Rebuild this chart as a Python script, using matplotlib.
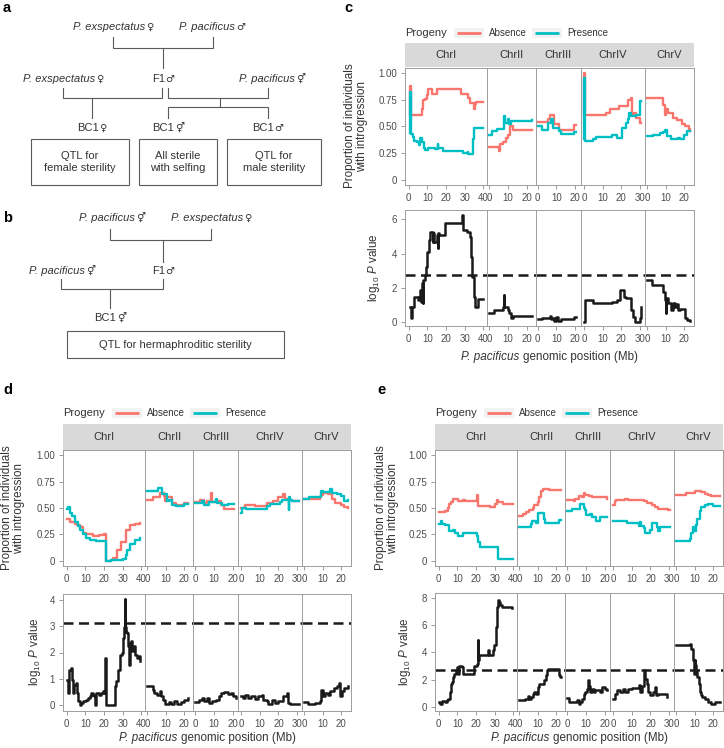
import numpy as np
import matplotlib.pyplot as plt
from matplotlib.patches import Rectangle
from matplotlib.offsetbox import TextArea, HPacker, AnnotationBbox

# facets and series
chroms = ['ChrI', 'ChrII', 'ChrIII', 'ChrIV', 'ChrV']
chrom_len = [40.0, 23.6, 22.0, 31.0, 24.0]
progeny = ['Absence', 'Presence']
progeny_colors = ['#F8766D', '#00BFC4']

# ---- panel c : proportion with introgression (Mb, proportion), one list per chromosome
c_abs_pos = [[0.5, 0.9, 1.2, 7.0, 7.9, 8.8, 9.6, 10.5, 12.3, 14.9, 28.1, 31.6, 33.0, 33.3, 34.7, 35.6, 36.0, 39.5],
             [0.0, 4.5, 4.9, 5.4, 7.1, 8.9, 9.8, 11.2, 12.5, 22.9],
             [0.0, 5.4, 6.3, 8.6, 8.9, 11.1, 11.6, 19.6, 20.5],
             [0.0, 0.3, 0.6, 12.1, 14.0, 18.7, 23.4, 25.2, 25.8, 27.1, 28.0, 29.9, 30.8],
             [0.0, 8.7, 9.5, 10.0, 11.5, 14.2, 16.0, 18.7, 20.5, 22.4, 23.3]]
c_abs_val = [[0.61, 0.88, 0.61, 0.66, 0.75, 0.76, 0.80, 0.85, 0.81, 0.85, 0.81, 0.77, 0.72, 0.72, 0.66, 0.71, 0.73, 0.73],
             [0.31, 0.31, 0.27, 0.34, 0.35, 0.39, 0.42, 0.50, 0.47, 0.47],
             [0.54, 0.57, 0.61, 0.57, 0.52, 0.50, 0.47, 0.51, 0.51],
             [0.61, 1.00, 0.61, 0.63, 0.66, 0.69, 0.75, 0.77, 0.61, 0.63, 0.58, 0.53, 0.53],
             [0.77, 0.70, 0.61, 0.66, 0.63, 0.58, 0.56, 0.52, 0.50, 0.48, 0.46]]
c_pre_pos = [[0.5, 0.9, 1.2, 2.1, 2.6, 4.4, 5.6, 6.1, 7.0, 8.2, 8.8, 10.5, 14.0, 15.4, 15.8, 16.1, 18.4, 28.9, 31.6, 31.9, 33.3, 34.2, 34.6, 35.1, 39.5],
             [0.0, 1.2, 3.9, 7.7, 7.9, 8.6, 9.8, 10.7, 11.6, 12.5, 23.0],
             [0.0, 2.1, 5.7, 7.1, 8.0, 11.1, 12.5, 19.6, 20.5],
             [0.0, 0.3, 0.6, 4.7, 6.5, 15.0, 17.8, 20.6, 22.4, 23.4, 24.3, 25.2, 28.0, 29.9, 30.8],
             [0.0, 3.3, 6.9, 8.7, 9.6, 10.5, 12.9, 16.5, 17.8, 19.6, 21.5, 23.3]]
c_pre_val = [[0.44, 0.82, 0.43, 0.40, 0.36, 0.35, 0.33, 0.39, 0.35, 0.30, 0.28, 0.30, 0.29, 0.34, 0.30, 0.30, 0.27, 0.25, 0.26, 0.24, 0.24, 0.28, 0.38, 0.49, 0.49],
             [0.42, 0.46, 0.48, 0.49, 0.60, 0.53, 0.57, 0.52, 0.55, 0.55, 0.56],
             [0.50, 0.47, 0.53, 0.57, 0.49, 0.46, 0.43, 0.45, 0.45],
             [0.38, 0.96, 0.36, 0.38, 0.40, 0.42, 0.39, 0.49, 0.53, 0.57, 0.63, 0.60, 0.61, 0.74, 0.74],
             [0.41, 0.42, 0.44, 0.45, 0.47, 0.41, 0.38, 0.39, 0.38, 0.42, 0.46, 0.46]]
# panel c : -log10 P
c_lp_pos = [[0.5, 1.2, 1.8, 3.0, 4.7, 5.3, 6.1, 6.7, 7.0, 7.4, 7.9, 8.8, 9.3, 9.6, 10.0, 10.9, 11.4, 12.8, 13.2, 13.7,
             14.9, 15.4, 15.8, 16.1, 19.3, 28.6, 29.3, 31.2, 33.0, 33.3, 33.9, 34.7, 35.4, 36.8, 39.5],
            [0.0, 2.7, 7.1, 7.7, 8.0, 9.8, 10.7, 11.6, 12.5, 22.9],
            [0.0, 2.1, 6.3, 7.1, 8.0, 8.9, 9.8, 10.7, 12.5, 19.6, 20.5],
            [0.0, 0.6, 4.7, 15.0, 17.8, 19.6, 21.5, 22.4, 25.2, 26.2, 27.5, 29.9, 30.8],
            [0.0, 2.6, 8.7, 9.6, 10.0, 10.2, 11.1, 12.9, 14.2, 15.1, 16.0, 16.9, 17.8, 20.5, 21.5, 23.3]]
c_lp_val = [[0.84, 0.2, 0.84, 1.46, 1.27, 1.46, 1.86, 1.17, 2.25, 1.07, 2.44, 2.73, 3.22, 3.71, 4.1, 4.78, 5.27, 4.69, 5.2, 4.69,
             5.08, 4.3, 5.2, 5.08, 5.76, 6.25, 5.37, 5.27, 4.98, 3.8, 2.63, 1.46, 0.88, 1.33, 1.33],
            [0.49, 0.68, 0.88, 1.56, 0.84, 0.68, 0.49, 0.2, 0.33, 0.33],
            [0.14, 0.2, 0.33, 0.14, 0.22, 0.06, 0.25, 0.06, 0.18, 0.29, 0.29],
            [0.0, 1.27, 1.07, 1.17, 1.27, 1.86, 1.46, 1.37, 0.68, 0.29, 0.0, 0.2, 0.88],
            [2.44, 2.15, 1.76, 1.27, 0.49, 1.37, 1.1, 0.68, 1.07, 0.88, 1.03, 0.68, 0.72, 0.2, 0.1, 0.02]]
c_thresh = 2.73

# ---- panel d
d_abs_pos = [[0, 1.8, 4.4, 5.3, 7.0, 8.8, 10.5, 14.0, 17.5, 20.2, 21.1, 23.7, 24.6, 27.2, 28.9, 31.6, 34.2, 36.8, 39.5],
             [0, 3.3, 7.0, 8.9, 9.8, 10.7, 13.5, 15.4, 20.0, 21.9],
             [0, 2.7, 4.5, 6.4, 8.2, 8.7, 11.8, 13.6, 15.5, 20.9],
             [0, 1.8, 7.3, 13.6, 17.3, 20.0, 22.7, 23.6, 26.4, 27.3, 30.9],
             [0, 8.4, 9.3, 10.3, 13.1, 15.0, 16.8, 19.6, 21.5, 23.4]]
d_abs_val = [[0.40, 0.37, 0.35, 0.34, 0.32, 0.26, 0.25, 0.23, 0.24, 0.25, 0.0, 0.01, 0.03, 0.10, 0.18, 0.29, 0.34, 0.35, 0.36],
             [0.58, 0.60, 0.64, 0.61, 0.57, 0.60, 0.55, 0.53, 0.55, 0.55],
             [0.56, 0.58, 0.55, 0.57, 0.64, 0.56, 0.57, 0.53, 0.49, 0.49],
             [0.50, 0.53, 0.52, 0.55, 0.57, 0.60, 0.63, 0.59, 0.58, 0.57, 0.57],
             [0.59, 0.60, 0.62, 0.64, 0.63, 0.59, 0.55, 0.53, 0.51, 0.50]]
d_pre_pos = [[0, 0.9, 1.8, 2.6, 4.4, 6.1, 7.0, 8.8, 10.5, 12.3, 15.8, 21.1, 23.7, 30.0, 31.6, 32.5, 34.2, 36.8, 39.5],
             [0, 6.1, 8.0, 10.7, 11.7, 13.5, 15.4, 20.0, 21.9],
             [0, 3.6, 4.5, 7.3, 10.9, 11.8, 14.5, 17.3, 20.9],
             [0, 0.4, 2.7, 13.6, 15.5, 20.9, 21.8, 25.5, 25.8, 26.2, 27.3, 30.9],
             [0, 2.8, 9.3, 10.3, 14.0, 15.0, 17.8, 19.6, 21.5, 23.4]]
d_pre_val = [[0.49, 0.51, 0.45, 0.42, 0.37, 0.33, 0.29, 0.25, 0.22, 0.20, 0.19, 0.0, 0.01, 0.02, 0.05, 0.10, 0.16, 0.20, 0.22],
             [0.66, 0.69, 0.63, 0.57, 0.58, 0.53, 0.52, 0.54, 0.54],
             [0.55, 0.57, 0.53, 0.56, 0.59, 0.55, 0.53, 0.54, 0.54],
             [0.45, 0.50, 0.49, 0.52, 0.54, 0.56, 0.58, 0.48, 0.60, 0.58, 0.57, 0.57],
             [0.59, 0.60, 0.66, 0.65, 0.68, 0.64, 0.63, 0.61, 0.57, 0.58]]
d_lp_pos = [[0, 0.9, 1.2, 2.1, 2.6, 3.2, 3.9, 4.9, 5.3, 6.1, 7.0, 7.9, 8.8, 10.5, 11.4, 12.6, 13.2, 14.0, 14.9, 15.4,
             15.8, 17.5, 18.4, 19.3, 20.2, 20.7, 21.1, 25.4, 26.0, 26.7, 27.7, 28.4, 29.5, 30.2, 30.7, 31.1, 31.4, 31.9,
             32.5, 33.0, 33.3, 33.9, 34.7, 35.1, 35.6, 36.3, 36.8, 37.7, 38.6, 39.5],
            [0, 2.4, 3.0, 3.7, 5.2, 6.7, 7.4, 8.5, 9.8, 11.7, 12.6, 14.4, 16.3, 18.1, 20.0, 21.9],
            [0, 1.8, 3.6, 4.5, 6.4, 7.3, 9.1, 10.9, 12.7, 14.0, 15.5, 17.3, 19.1, 20.0, 21.8],
            [0, 0.9, 1.8, 3.6, 5.5, 7.3, 9.1, 10.9, 11.8, 13.6, 14.5, 16.4, 18.2, 20.0, 22.7, 24.5, 25.1, 26.4, 28.2, 30.9],
            [0, 1.9, 5.6, 8.4, 9.3, 9.9, 11.2, 13.1, 14.0, 15.9, 17.8, 18.7, 19.3, 20.6, 21.5, 23.4]]
d_lp_val = [[0.94, 0.46, 1.34, 1.4, 0.96, 0.46, 0.77, 0.84, 0.46, 0.14, 0.0, 0.08, 0.14, 0.2, 0.27, 0.33, 0.46, 0.39, 0.33, 0.0,
             0.46, 0.39, 0.46, 0.52, 0.46, 1.78, 0.0, 0.0, 0.71, 0.9, 1.34, 1.91, 1.97, 2.54, 2.99, 4.03, 2.99, 2.8,
             2.73, 2.23, 1.53, 2.35, 2.42, 2.04, 2.16, 2.23, 1.91, 1.78, 1.85, 1.66],
            [0.73, 0.73, 0.58, 0.46, 0.39, 0.52, 0.33, 0.2, 0.05, 0.1, 0.05, 0.14, 0.05, 0.1, 0.18, 0.27],
            [0.1, 0.18, 0.27, 0.14, 0.27, 0.08, 0.14, 0.2, 0.33, 0.46, 0.48, 0.43, 0.46, 0.33, 0.27],
            [0.33, 0.27, 0.39, 0.27, 0.33, 0.23, 0.33, 0.39, 0.2, 0.14, 0.05, 0.18, 0.08, 0.14, 0.33, 0.46, 0.08, 0.05, 0.03, 0.03],
            [0.1, 0.05, 0.08, 0.14, 0.58, 0.33, 0.46, 0.39, 0.52, 0.65, 0.71, 0.84, 0.33, 0.52, 0.65, 0.71]]
d_thresh = 3.11

# ---- panel e
e_abs_pos = [[0, 3.4, 4.8, 5.5, 6.6, 7.9, 8.8, 10.5, 13.2, 14.1, 15.0, 20.6, 20.9, 21.3, 27.5, 30.2, 31.1, 32.0, 34.6, 39.8],
             [0, 2.0, 3.8, 5.5, 7.3, 8.2, 10.0, 10.9, 11.8, 12.7, 16.3, 22.5],
             [0, 3.4, 4.3, 6.1, 7.9, 8.8, 9.6, 11.4, 13.2, 21.3],
             [0, 0.7, 1.4, 6.4, 8.2, 16.3, 18.0, 20.7, 22.5, 24.3, 29.6, 30.6],
             [0, 5.5, 10.0, 13.6, 15.4, 17.1, 18.9, 23.4]]
e_abs_val = [[0.46, 0.47, 0.50, 0.54, 0.56, 0.59, 0.59, 0.57, 0.58, 0.57, 0.57, 0.62, 0.52, 0.52, 0.51, 0.54, 0.58, 0.56, 0.54, 0.54],
             [0.42, 0.44, 0.46, 0.48, 0.50, 0.53, 0.56, 0.60, 0.66, 0.68, 0.67, 0.67],
             [0.58, 0.57, 0.59, 0.61, 0.60, 0.64, 0.62, 0.61, 0.60, 0.59],
             [0.53, 0.57, 0.58, 0.59, 0.58, 0.57, 0.55, 0.53, 0.51, 0.49, 0.48, 0.48],
             [0.62, 0.64, 0.66, 0.65, 0.63, 0.62, 0.61, 0.61]]
e_pre_pos = [[0, 1.4, 1.8, 3.4, 5.5, 7.9, 8.8, 10.5, 13.2, 20.4, 21.3, 22.1, 31.1, 31.6, 32.0, 39.8],
             [0, 6.4, 6.8, 9.1, 10.4, 13.6, 14.1, 15.4, 21.6, 22.5],
             [0, 2.5, 7.0, 8.8, 9.3, 10.0, 12.3, 13.2, 15.4, 17.7, 21.5],
             [0, 7.3, 13.6, 14.5, 15.0, 16.3, 17.1, 19.8, 20.7, 23.4, 24.3, 25.2, 30.5],
             [0, 7.3, 8.2, 9.1, 10.0, 10.5, 11.4, 12.7, 13.6, 15.4, 17.1, 19.8, 23.4]]
e_pre_val = [[0.35, 0.38, 0.35, 0.34, 0.28, 0.29, 0.26, 0.23, 0.26, 0.23, 0.18, 0.13, 0.13, 0.08, 0.02, 0.02],
             [0.32, 0.35, 0.38, 0.36, 0.45, 0.40, 0.36, 0.36, 0.39, 0.39],
             [0.47, 0.49, 0.54, 0.50, 0.48, 0.43, 0.44, 0.41, 0.38, 0.41, 0.41],
             [0.38, 0.36, 0.33, 0.37, 0.33, 0.31, 0.26, 0.29, 0.36, 0.32, 0.28, 0.32, 0.32],
             [0.19, 0.21, 0.26, 0.32, 0.28, 0.34, 0.40, 0.47, 0.51, 0.53, 0.54, 0.52, 0.52]]
e_lp_pos = [[0, 0.7, 1.6, 3.4, 4.3, 5.2, 6.1, 6.6, 7.3, 7.9, 8.4, 9.1, 9.6, 10.5, 10.9, 12.3, 12.9, 18.6, 19.1, 20.4,
             20.9, 21.3, 21.6, 26.3, 27.0, 29.3, 29.8, 30.5, 31.1, 31.6, 32.3, 32.9, 33.8, 39.5],
            [0, 1.1, 2.9, 4.6, 5.5, 6.4, 7.3, 8.2, 9.1, 10.0, 10.5, 11.8, 13.6, 14.5, 15.0, 15.7, 21.6, 22.1, 22.5],
            [0, 0.7, 5.2, 6.1, 7.0, 7.9, 8.8, 9.6, 10.5, 11.1, 11.8, 12.3, 13.2, 14.1, 15.0, 17.7, 18.6, 20.4, 21.3],
            [0, 0.7, 2.0, 3.8, 5.5, 6.4, 8.2, 10.0, 13.6, 14.5, 15.4, 16.3, 17.1, 18.0, 18.9, 19.8, 21.6, 22.5, 23.0, 24.3, 27.9, 28.8],
            [0, 7.3, 8.2, 9.1, 9.6, 10.0, 10.4, 10.9, 11.4, 12.1, 12.7, 13.2, 13.9, 15.4, 17.1, 18.9, 20.7, 23.4]]
e_lp_val = [[0.37, 0.24, 0.44, 0.37, 0.49, 0.61, 1.1, 1.71, 1.83, 2.2, 2.44, 2.69, 2.93, 2.44, 2.98, 2.93, 2.44, 2.44, 2.98, 3.18,
             4.89, 3.42, 3.79, 4.16, 3.79, 4.16, 4.52, 5.87, 7.33, 7.87, 7.7, 7.46, 7.33, 7.25],
            [0.49, 0.54, 0.61, 0.78, 0.61, 0.73, 0.98, 1.1, 0.98, 1.47, 1.71, 1.66, 1.96, 2.32, 2.69, 2.81, 2.32, 2.2, 2.2],
            [0.68, 0.37, 0.49, 0.24, 0.37, 0.61, 0.98, 1.1, 1.34, 1.96, 1.52, 1.1, 1.34, 1.1, 1.22, 1.1, 1.47, 1.34, 1.22],
            [0.61, 0.98, 1.22, 1.1, 1.34, 1.1, 1.34, 1.42, 1.59, 1.1, 1.52, 2.69, 2.08, 1.71, 1.1, 0.86, 1.1, 1.47, 0.86, 0.98, 0.93, 0.73],
            [4.52, 4.6, 4.28, 3.42, 2.44, 3.42, 3.06, 2.57, 2.2, 1.71, 1.1, 0.86, 0.73, 0.55, 0.37, 0.24, 0.37, 0.37]]
e_thresh = 2.74

W, H = 724, 748
plt.rcParams['font.family'] = ['Liberation Sans', 'DejaVu Sans']
plt.rcParams['mathtext.fontset'] = 'custom'
plt.rcParams['mathtext.rm'] = 'Liberation Sans'
plt.rcParams['mathtext.it'] = 'Liberation Sans:italic'
plt.rcParams['mathtext.bf'] = 'Liberation Sans:bold'

TXT = '#333333'
LINE = '#5a5a5a'
TITLE_FS = 8.4

fig = plt.figure(figsize=(W / 100, H / 100), dpi=100)


def px(x0, y0, x1, y1):
    # pixel box (from top left) -> figure fraction rect
    return [x0 / W, 1 - y1 / H, (x1 - x0) / W, (y1 - y0) / H]


def style_ax(ax, L, first):
    for s in ax.spines.values():
        s.set_color('#9c9c9c')
        s.set_linewidth(0.7)
    ax.set_xlim(-0.05 * L, 1.05 * L)
    ticks = np.arange(0, L + 0.01, 10)
    ax.set_xticks(ticks)
    ax.set_xticklabels([str(int(t)) for t in ticks])
    ax.tick_params(length=2.8, width=0.6, color='#8a8a8a', labelsize=7, labelcolor='#4d4d4d', pad=3)
    if not first:
        ax.tick_params(axis='y', left=False, labelleft=False)


def qtl_block(x0, x1, strip, upper, lower, abs_pos, abs_val, pre_pos, pre_val, lp_pos, lp_val,
              thresh, lp_ylim, lp_ticks):
    total = sum(chrom_len)
    left = x0
    for i, (name, L) in enumerate(zip(chroms, chrom_len)):
        right = left + (x1 - x0) * L / total
        sa = fig.add_axes(px(left, strip[0], right, strip[1]))
        sa.set_facecolor('#d9d9d9')
        for s in sa.spines.values():
            s.set_visible(False)
        sa.set_xticks([])
        sa.set_yticks([])
        sa.text(0.5, 0.5, name, transform=sa.transAxes, ha='center', va='center', fontsize=8, color=TXT)

        au = fig.add_axes(px(left, upper[0], right, upper[1]))
        au.plot(abs_pos[i], abs_val[i], drawstyle='steps-post', color=progeny_colors[0], lw=1.7)
        au.plot(pre_pos[i], pre_val[i], drawstyle='steps-post', color=progeny_colors[1], lw=1.7)
        au.set_ylim(-0.05, 1.05)
        au.set_yticks([0, 0.25, 0.5, 0.75, 1.0])
        au.set_yticklabels(['0', '0.25', '0.50', '0.75', '1.00'])
        style_ax(au, L, i == 0)

        al = fig.add_axes(px(left, lower[0], right, lower[1]))
        al.plot(lp_pos[i], lp_val[i], drawstyle='steps-post', color='#1a1a1a', lw=1.8)
        al.axhline(thresh, color='#1a1a1a', lw=1.8, dashes=(4, 2.2))
        al.set_ylim(*lp_ylim)
        al.set_yticks(lp_ticks)
        style_ax(al, L, i == 0)
        left = right


qtl_block(405, 694, (43, 67), (68, 185), (210, 326), c_abs_pos, c_abs_val, c_pre_pos, c_pre_val,
          c_lp_pos, c_lp_val, c_thresh, (-0.25, 6.55), [0, 2, 4, 6])
qtl_block(63, 351, (424, 450), (450, 566), (594, 711), d_abs_pos, d_abs_val, d_pre_pos, d_pre_val,
          d_lp_pos, d_lp_val, d_thresh, (-0.23, 4.23), [0, 1, 2, 3, 4])
qtl_block(435, 723, (424, 450), (450, 566), (593, 711), e_abs_pos, e_abs_val, e_pre_pos, e_pre_val,
          e_lp_pos, e_lp_val, e_thresh, (-0.3, 8.37), [0, 2, 4, 6, 8])

# overlay in pixel coordinates for diagrams, legends and titles
ov = fig.add_axes([0, 0, 1, 1])
ov.set_xlim(0, W)
ov.set_ylim(H, 0)
ov.axis('off')


def mixed_label(parts, x, y, fs, sep=0.5):
    # parts: list of (text, italic, family, size offset); centred at (x, y)
    kids = [TextArea(t, textprops=dict(fontsize=fs + d, color=TXT, family=fam,
                                       fontstyle='italic' if it else 'normal'))
            for t, it, fam, d in parts]
    pk = HPacker(children=kids, pad=0, sep=sep, align='baseline')
    ov.add_artist(AnnotationBbox(pk, (x, y), xycoords='data', frameon=False, box_alignment=(0.5, 0.5), pad=0))


# panel letters
for lab, x, y in [('a', 3, 8), ('b', 3, 218), ('c', 344, 8), ('d', 3, 390), ('e', 377, 390)]:
    ov.text(x, y, lab, fontsize=10.5, fontweight='bold', ha='left', va='center', color='black')

# legends, axis titles
ylab_up = 'Proportion of individuals\nwith introgression'
ylab_lp = r'log$_{10}$ $P$ value'
for (x0, ly, yl1x, yl1y, yl2x, yl2y, xlx, xly) in [(405, 33, 356, 126, 374, 268, 549, 357),
                                                   (63, 413, 13, 508, 35, 652, 207, 738),
                                                   (435, 413, 387, 508, 405, 652, 579, 738)]:
    ov.text(x0, ly, 'Progeny', fontsize=8, color=TXT, ha='left', va='center')
    for k, (nm, col) in enumerate(zip(progeny, progeny_colors)):
        kx = x0 + 52 + 78 * k
        ov.add_patch(Rectangle((kx - 3, ly - 5), 30, 10, facecolor='#f2f2f2', edgecolor='none'))
        ov.plot([kx, kx + 24], [ly, ly], color=col, lw=2, solid_capstyle='butt')
        ov.text(kx + 32, ly, nm, fontsize=7, color=TXT, ha='left', va='center')
    ov.text(yl1x, yl1y, ylab_up, rotation=90, fontsize=TITLE_FS, color=TXT, ha='center', va='center',
            multialignment='center', linespacing=0.95)
    ov.text(yl2x, yl2y, ylab_lp, rotation=90, fontsize=TITLE_FS, color=TXT, ha='center', va='center')
    mixed_label([('P. pacificus', True, 'Liberation Sans', 0),
                 ('genomic position (Mb)', False, 'Liberation Sans', 0)], xlx, xly, TITLE_FS, sep=2.6)

# ---- cross diagrams (a, b)
FS = 8
node_labels = [('P. exspectatus', '\u2640', True, 113, 27), ('P. pacificus', '\u2642', True, 212, 27),
               ('P. exspectatus', '\u2640', True, 63, 79), ('F1', '\u2642', False, 163, 79),
               ('P. pacificus', '\u26a5', True, 272, 79),
               ('BC1', '\u2640', False, 92, 128), ('BC1', '\u26a5', False, 168, 128), ('BC1', '\u2642', False, 268, 128),
               ('P. pacificus', '\u26a5', True, 112, 218), ('P. exspectatus', '\u2640', True, 211, 218),
               ('P. pacificus', '\u26a5', True, 62, 271), ('F1', '\u2642', False, 163, 271),
               ('BC1', '\u26a5', False, 110, 318)]
for name, sym, ital, x, y in node_labels:
    mixed_label([(name, ital, 'Liberation Sans', 0), (sym, False, 'DejaVu Sans', -0.8)], x, y, FS)

connectors = [
    [(113, 37), (113, 48), (213, 48), (213, 37)], [(163, 48), (163, 68)],
    [(63, 88), (63, 98), (162, 98), (162, 88)], [(92, 98), (92, 118)],
    [(168, 88), (168, 98), (268, 98), (268, 88)], [(220, 98), (220, 107)],
    [(168, 118), (168, 107), (268, 107), (268, 118)],
    [(110, 229), (110, 240), (211, 240), (211, 229)], [(163, 240), (163, 262)],
    [(61, 279), (61, 289), (163, 289), (163, 279)], [(110, 289), (110, 308)],
]
for seg in connectors:
    xs, ys = zip(*seg)
    ov.plot(xs, ys, color=LINE, lw=0.8, solid_joinstyle='miter')

boxes = [((31, 139, 129, 185), 'QTL for\nfemale sterility'),
         ((139, 139, 217, 185), 'All sterile\nwith selfing'),
         ((227, 139, 321, 185), 'QTL for\nmale sterility'),
         ((67, 331, 284, 358), 'QTL for hermaphroditic sterility')]
for (x0, y0, x1, y1), s in boxes:
    ov.add_patch(Rectangle((x0, y0), x1 - x0, y1 - y0, facecolor='none', edgecolor=LINE, lw=0.8))
    ov.text((x0 + x1) / 2, (y0 + y1) / 2, s, fontsize=FS, color=TXT, ha='center', va='center',
            multialignment='center', linespacing=1.2)

fig.savefig('out.png', dpi=100)
